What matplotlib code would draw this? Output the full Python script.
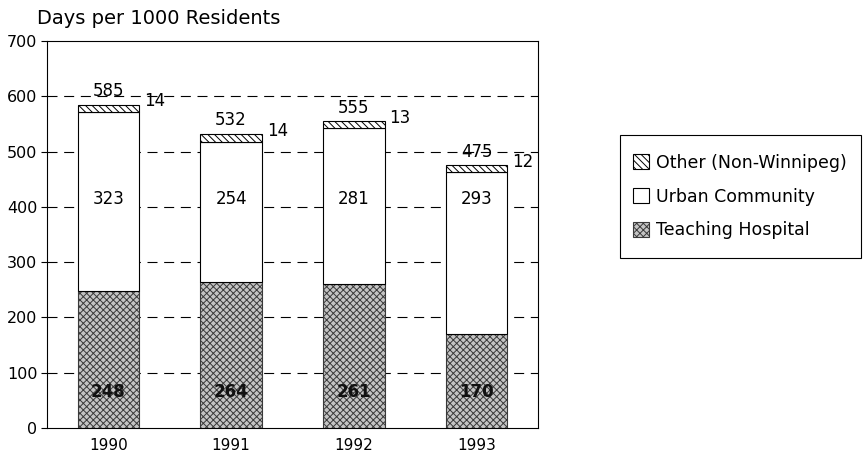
import matplotlib
matplotlib.use("Agg")
import matplotlib.pyplot as plt
from matplotlib.patches import Rectangle
import numpy as np

plt.rcParams['font.family'] = ['DejaVu Sans']
plt.rcParams['hatch.linewidth'] = 0.7

years = ["1990", "1991", "1992", "1993"]
teaching = [248, 264, 261, 170]
urban = [323, 254, 281, 293]
other = [14, 14, 13, 12]
totals = [585, 532, 555, 475]

fig = plt.figure(figsize=(8.67, 4.53), dpi=100)
ax = fig.add_axes([47/867, 1-428/453, 491/867, 387/453])

x = np.arange(len(years))
w = 0.5
teaching_a = np.array(teaching)
urban_a = np.array(urban)
other_a = np.array(other)

b1 = ax.bar(x, teaching_a, w, color='#c4c4c4', edgecolor='#3a3a3a', hatch='xxxxx', linewidth=0.8, zorder=3,
            label='Teaching Hospital')
b2 = ax.bar(x, urban_a, w, bottom=teaching_a, color='white', edgecolor='black', linewidth=0.8, zorder=3,
            label='Urban Community')
b3 = ax.bar(x, other_a, w, bottom=teaching_a + urban_a, color='white', edgecolor='black', hatch='\\\\\\\\\\',
            linewidth=0.8, zorder=3, label='Other (Non-Winnipeg)')

fs = 12
teach_label_y = 65
urban_label_y = 415
for i in range(len(years)):
    ax.text(x[i], teach_label_y, str(teaching[i]), ha='center', va='center', fontsize=fs, zorder=5,
            color='#111111', fontweight='semibold')
    ax.text(x[i], urban_label_y, str(urban[i]), ha='center', va='center', fontsize=fs, zorder=5)
    ax.text(x[i] + w/2 + 0.04, teaching[i] + urban[i] + other[i] + 6, str(other[i]), ha='left', va='center',
            fontsize=fs, zorder=5)
    ax.text(x[i], totals[i] + 8, str(totals[i]), ha='center', va='bottom', fontsize=fs, zorder=5)

ax.set_xlim(-0.5, 3.5)
ax.set_ylim(0, 700)
ax.set_yticks(range(0, 701, 100))
ax.set_xticks(x)
ax.set_xticklabels(years)
ax.tick_params(axis='x', length=0, labelsize=11, pad=7)
ax.tick_params(axis='y', length=4, labelsize=11.5, width=0.8, pad=3)
for y in range(100, 700, 100):
    ax.axhline(y, color='black', linestyle=(0, (9, 6)), linewidth=0.8, zorder=1)
for s in ax.spines.values():
    s.set_linewidth(0.8)

fig.text(37/867, 1-18/453, "Days per 1000 Residents", fontsize=14, ha='left', va='center')

# legend box
fig.patches.append(Rectangle((620/867, 1-258/453), (861-620)/867, (258-135)/453,
                             transform=fig.transFigure, facecolor='white', edgecolor='black',
                             linewidth=0.8, zorder=0))
handles = [b3, b2, b1]
leg = fig.legend(handles, [h.get_label() for h in handles], loc='center left',
                 bbox_to_anchor=(633/867, 1-196.5/453), frameon=False,
                 fontsize=12.5, handlelength=0.95, handleheight=0.95,
                 handletextpad=0.35, labelspacing=0.9, borderpad=0, borderaxespad=0)

fig.savefig("out.png", dpi=100)
